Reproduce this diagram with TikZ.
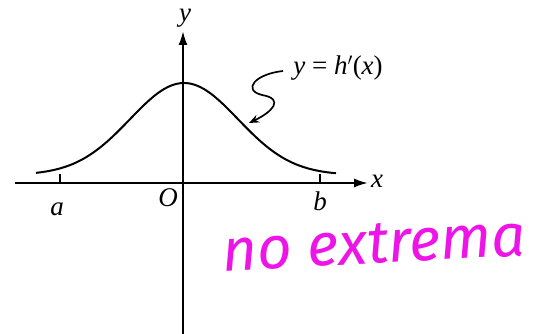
\documentclass[tikz,border=0pt]{standalone}
\usepackage{fontspec}
\setmainfont{Liberation Serif}
\newfontfamily\markerfont{Fira Sans}
\usetikzlibrary{arrows.meta,positioning,calc}
\definecolor{MarkerPink}{RGB}{238,20,232}

\begin{document}
\begin{tikzpicture}[x=1pt,y=-1pt,font=\fontsize{27}{30}\selectfont, every node/.style={inner sep=0pt}]
      \useasboundingbox (0,0) rectangle (539,334);
      \coordinate (origin) at (183,183);
      \coordinate (xstart) at (15,183);
      \coordinate (xend) at (368,183);
      \coordinate (ystart) at (183,334);
      \coordinate (yend) at (183,31);

      % axes and ticks
      \draw[line width=2pt,-{Latex[length=14pt,width=9pt]}] (xstart) -- (xend);
      \draw[line width=2pt,-{Latex[length=14pt,width=9pt]}] (ystart) -- (yend);
      \coordinate (tickA) at (60,183);
      \coordinate (tickB) at (320,183);
      \draw[line width=1.6pt] (tickA) -- ++(0,-9);
      \draw[line width=1.6pt] (tickB) -- ++(0,-9);

      \node[anchor=west] (xlabel) at ($(xend)+(3,-2)$) {\textit{x}};
      \node (ylabel) at (185,18) {\textit{y}};
      \node (alabel) at (57,209) {\textit{a}};
      \node (olabel) at (168,198) {\textit{O}};
      \node (blabel) at (320,201) {\textit{b}};

      % the bell curve
      \draw[line width=2pt] plot[domain=-14.8:15.2, samples=90, smooth]
        ({10*\x+184}, {175 - 92*exp(-(\x)^2/(2*5.4^2))});

      % label with its squiggle arrow
      \node (hlabel) at (338,68) {\textit{y} = \textit{h}$'$(\textit{x})};
      \coordinate (squigStart) at (283,71);
      \coordinate (squigTip) at (249,123);
      \draw[line width=1.7pt,-{Stealth[length=10pt,width=8pt]}] (squigStart)
        .. controls (255,74) and (242,90) .. (262,95)
        .. controls (285,99) and (272,112) .. (squigTip);

      % handwritten remark
      \node[text=MarkerPink, rotate=3, font=\markerfont\itshape\fontsize{60}{64}\selectfont] (remark) at (374,244) {no extrema};
    \end{tikzpicture}
\end{document}
